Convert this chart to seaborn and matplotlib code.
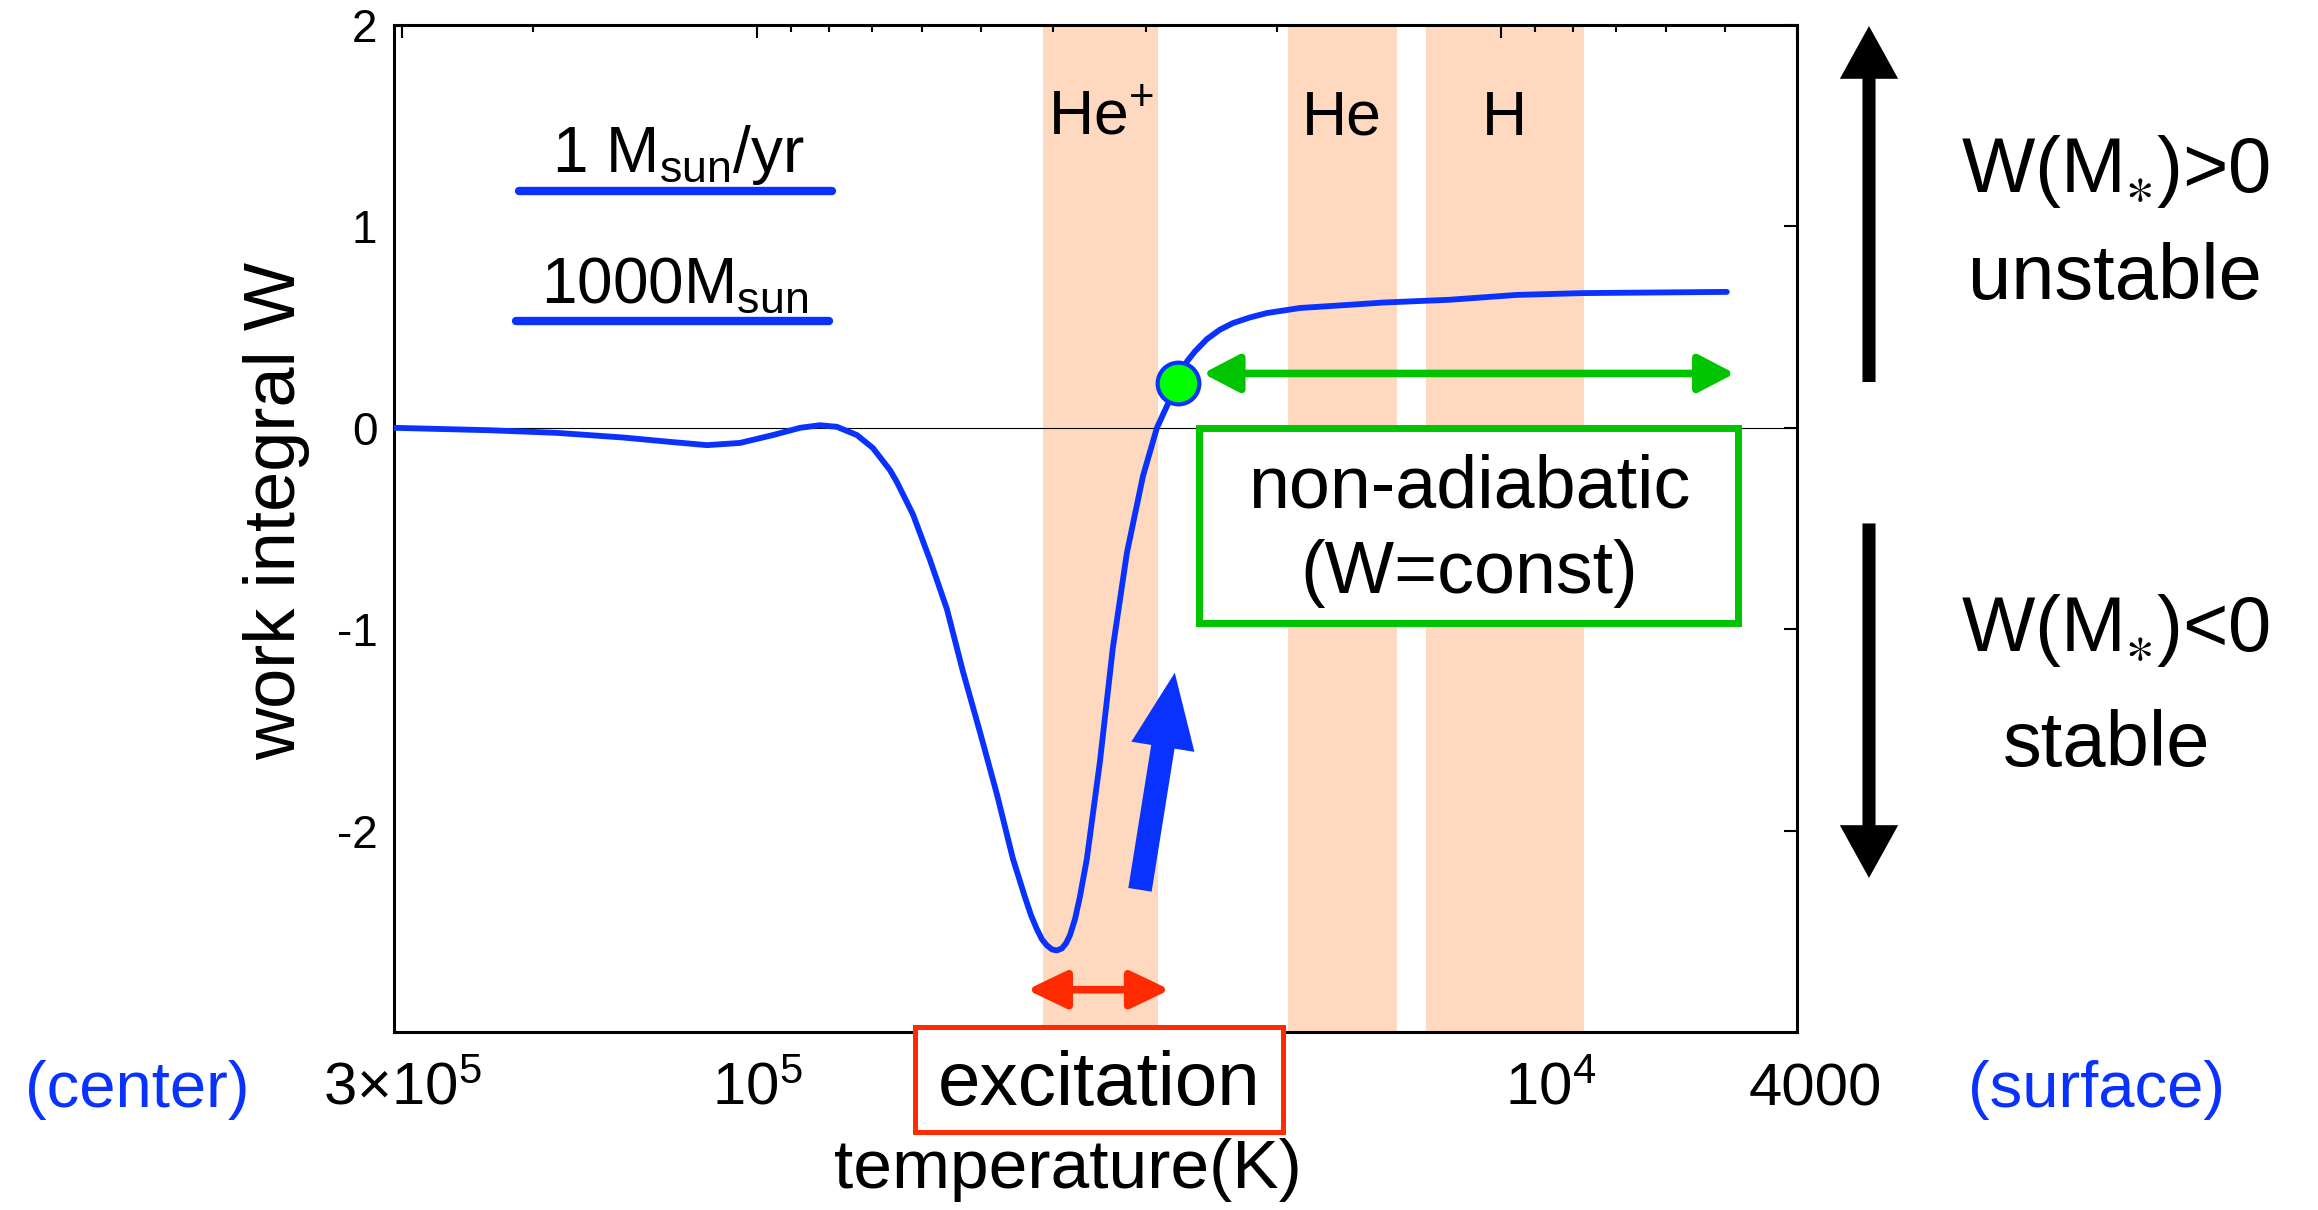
import numpy as np
import seaborn as sns
import matplotlib.pyplot as plt
from matplotlib.patches import FancyArrowPatch, Rectangle
from matplotlib.ticker import FixedLocator, LogLocator, NullFormatter
from matplotlib.transforms import ScaledTranslation

# work integral W against temperature (K)
temperature = [306700, 228500, 185700, 151400, 129700, 116700, 105400, 95200,
               87530, 82300, 78070, 73380, 69860, 66250, 64830, 61700, 58550,
               55550, 52860, 50150, 47580, 45280, 43630, 42820, 42040, 41390,
               40760, 40130, 39530, 38920, 38430, 37960, 37370, 36810, 36020,
               34600, 33230, 31820, 30280, 29000, 27860, 27180, 26420, 25780,
               24850, 23870, 22920, 21750, 20630, 18630, 15960, 14410, 11710,
               9517, 7760, 4970]
work = [0.0, -0.012, -0.025, -0.048, -0.071, -0.086, -0.075, -0.036,
        0.0, 0.013, 0.005, -0.036, -0.10, -0.21, -0.27, -0.43, -0.655,
        -0.90, -1.21, -1.51, -1.82, -2.14, -2.33, -2.42, -2.49, -2.54,
        -2.57, -2.59, -2.595, -2.585, -2.56, -2.52, -2.44, -2.33, -2.14,
        -1.66, -1.09, -0.62, -0.24, 0.0, 0.14, 0.22, 0.33, 0.379,
        0.44, 0.487, 0.52, 0.548, 0.57, 0.595, 0.611, 0.622, 0.636,
        0.66, 0.669, 0.675]

# transition point (green marker)
point_T = 27180
point_W = 0.225

# ionisation zones
band_lo = [41260, 19340, 12610]
band_hi = [28900, 13800, 7740]
band_labels = [r'He$^{\mathregular{+}}$', 'He', 'H']

# axis ticks
xtick_vals = [3e5, 1e5, 1e4, 4000]
xtick_labels = [r'3×10$^{\mathregular{5}}$', r'10$^{\mathregular{5}}$',
                r'10$^{\mathregular{4}}$', '4000']
ytick_vals = [-2, -1, 0, 1, 2]

# ranges marked by arrows
nonad_range = [25150, 4850]
nonad_W = 0.27
exc_range = [43350, 27860]
exc_W = -2.79
growth_T = [30560, 27440]
growth_W = [-2.294, -1.216]
nonad_box_T = [25460, 4803]
nonad_box_W = [-0.968, 0.0]

blue = '#0A32FF'
green = '#00C400'
red = '#FF2A00'
peach = '#FED9BF'

sns.set_theme(style='white')
plt.rcParams['font.family'] = ['Liberation Sans', 'DejaVu Sans']
plt.rcParams['mathtext.fontset'] = 'custom'
plt.rcParams['mathtext.rm'] = 'Liberation Sans'
plt.rcParams['mathtext.it'] = 'Liberation Sans'
plt.rcParams['mathtext.bf'] = 'Liberation Sans'
plt.rcParams['mathtext.fallback'] = 'stixsans'
plt.rcParams['axes.unicode_minus'] = False
plt.rcParams['text.color'] = 'black'
plt.rcParams['axes.labelcolor'] = 'black'
plt.rcParams['xtick.color'] = 'black'
plt.rcParams['ytick.color'] = 'black'

fig = plt.figure(figsize=(23.18, 12.10), dpi=100)
ax = fig.add_axes([0.170, 0.1471, 0.6052, 0.8322])

# shaded zones
for lo, hi, lab in zip(band_lo, band_hi, band_labels):
    ax.axvspan(lo, hi, color=peach, lw=0, zorder=0)
    ax.text(np.sqrt(lo * hi), 1.455, lab, ha='center', va='baseline',
            fontsize=45, color='black', zorder=2)

ax.axhline(0, color='black', lw=0.8, zorder=1)

sns.lineplot(x=temperature, y=work, ax=ax, color=blue, lw=4.2,
             sort=False, estimator=None, zorder=3)
sns.scatterplot(x=[point_T], y=[point_W], ax=ax, s=900, color='#00FF00',
                edgecolor=blue, linewidth=3, zorder=6)

ax.set_xscale('log')
ax.set_xlim(307500, 4000)
ax.set_ylim(-3, 2)

ax.xaxis.set_major_locator(FixedLocator(xtick_vals))
ax.set_xticklabels(xtick_labels)
ax.xaxis.set_minor_locator(LogLocator(base=10, subs=np.arange(2, 10), numticks=30))
ax.xaxis.set_minor_formatter(NullFormatter())
ax.set_yticks(ytick_vals)
ax.set_yticklabels([str(v) for v in ytick_vals])

ax.tick_params(axis='both', which='both', direction='in', top=True, right=True,
               color='black', labelcolor='black')
ax.tick_params(axis='both', which='major', length=9.5, width=1.5)
ax.tick_params(axis='both', which='minor', length=5, width=1.5)
ax.tick_params(axis='x', labelsize=43, pad=22)
ax.tick_params(axis='y', labelsize=33, pad=12)
for sp in ax.spines.values():
    sp.set_color('black')
    sp.set_linewidth(2.2)

ax.set_xlabel('temperature(K)', fontsize=50, color='black')
ax.xaxis.set_label_coords(0.48, -0.105)
ax.set_ylabel('work integral W', fontsize=52, color='black')
ax.yaxis.set_label_coords(-0.06, 0.517)

# legend-like labels
ax.plot([0.089, 0.312], [0.8356, 0.8356], transform=ax.transAxes, color=blue, lw=6)
ax.text(0.2024, 0.8542, r'1 M$_{\mathregular{sun}}$/yr', transform=ax.transAxes,
        ha='center', va='baseline', fontsize=46)
ax.plot([0.087, 0.310], [0.7056, 0.7056], transform=ax.transAxes, color=blue, lw=6)
ax.text(0.2003, 0.7242, r'1000M$_{\mathregular{sun}}$', transform=ax.transAxes,
        ha='center', va='baseline', fontsize=46)

# non-adiabatic region
ax.add_patch(FancyArrowPatch((nonad_range[0], nonad_W), (nonad_range[1], nonad_W),
                             arrowstyle='<|-|>,head_length=2.2,head_width=1.15',
                             mutation_scale=10, color=green, lw=5.5,
                             shrinkA=0, shrinkB=0, zorder=5))
ax.add_patch(Rectangle((nonad_box_T[1], nonad_box_W[0]),
                       nonad_box_T[0] - nonad_box_T[1],
                       nonad_box_W[1] - nonad_box_W[0],
                       facecolor='white', edgecolor=green, lw=5, zorder=4))
ax.text(11040, -0.397, 'non-adiabatic', ha='center', va='baseline', fontsize=53, zorder=5)
ax.text(11040, -0.819, '(W=const)', ha='center', va='baseline', fontsize=53, zorder=5)

# excitation range
ax.add_patch(FancyArrowPatch((exc_range[0], exc_W), (exc_range[1], exc_W),
                             arrowstyle='<|-|>,head_length=2.4,head_width=1.15',
                             mutation_scale=10, color=red, lw=5.5,
                             shrinkA=0, shrinkB=0, zorder=5))
ax.add_patch(FancyArrowPatch((growth_T[0], growth_W[0]), (growth_T[1], growth_W[1]),
                             arrowstyle='simple,head_length=54,head_width=46,tail_width=17',
                             mutation_scale=1, color=blue, lw=0,
                             shrinkA=0, shrinkB=0, zorder=5))

# annotations outside the axes
fig.add_artist(Rectangle((0.3947, 0.0645), 0.1588, 0.0868, transform=fig.transFigure,
                         facecolor='white', edgecolor=red, lw=3.6, zorder=10))
fig.text(0.4741, 0.0868, 'excitation', ha='center', va='baseline', fontsize=55, zorder=11)
fig.text(0.0591, 0.0851, '(center)', ha='center', va='baseline', fontsize=47, color=blue)
fig.text(0.9043, 0.0851, '(surface)', ha='center', va='baseline', fontsize=47, color=blue)

fig.add_artist(FancyArrowPatch((0.8063, 0.6843), (0.8063, 0.9785), transform=fig.transFigure,
                               arrowstyle='simple,head_length=38,head_width=42,tail_width=9.4',
                               mutation_scale=1, color='black', lw=0, shrinkA=0, shrinkB=0))
fig.add_artist(FancyArrowPatch((0.8063, 0.5674), (0.8063, 0.2744), transform=fig.transFigure,
                               arrowstyle='simple,head_length=38,head_width=42,tail_width=9.4',
                               mutation_scale=1, color='black', lw=0, shrinkA=0, shrinkB=0))
fig.text(0.9125, 0.8413, r'W(M$_{\ast}$)>0', ha='center', va='baseline', fontsize=56)
fig.text(0.9125, 0.7533, 'unstable', ha='center', va='baseline', fontsize=56)
fig.text(0.9125, 0.4616, r'W(M$_{\ast}$)<0', ha='center', va='baseline', fontsize=56)
fig.text(0.9090, 0.3669, 'stable', ha='center', va='baseline', fontsize=56)

# the 10^4 and 4000 labels sit a bit right of their ticks in the original
fig.canvas.draw()
for i, dx in [(2, 0.5), (3, 0.18)]:
    lab = ax.xaxis.get_major_ticks()[i].label1
    lab.set_transform(lab.get_transform() + ScaledTranslation(dx, 0, fig.dpi_scale_trans))

fig.savefig('out.png', dpi=100)
